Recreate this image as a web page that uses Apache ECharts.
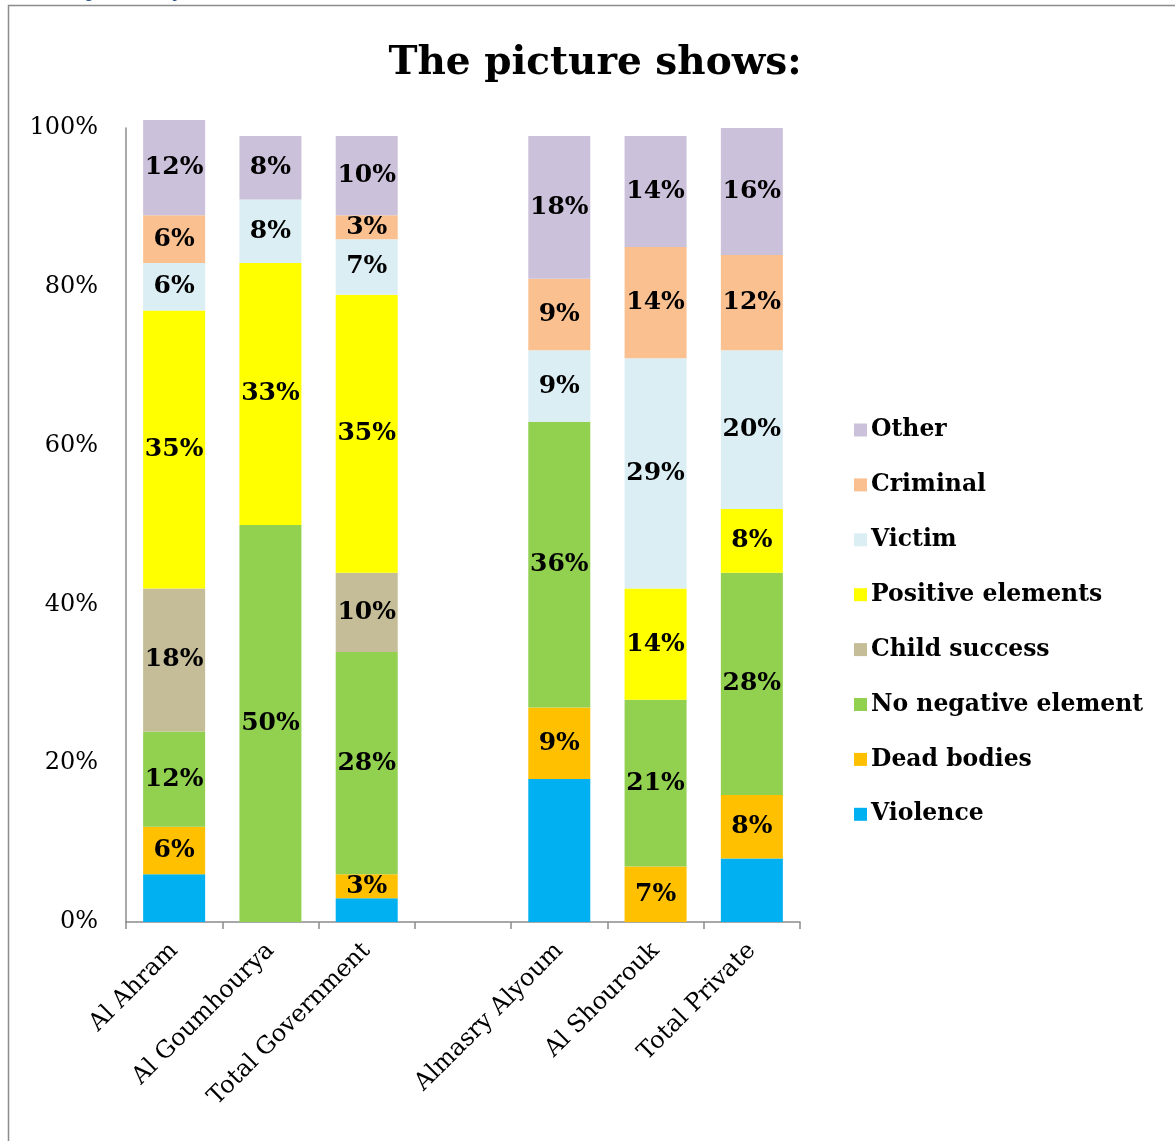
<!DOCTYPE html>
<html>
<head>
<meta charset="utf-8">
<script src="https://cdn.jsdelivr.net/npm/echarts@6/dist/echarts.min.js"></script>
<style>
html,body{margin:0;padding:0;background:#fff;}
#chart{width:1175px;height:1141px;}
</style>
</head>
<body>
<div id="chart"></div>
<script>
const categories = ['Al Ahram', 'Al Goumhourya', 'Total Government', '', 'Almasry Alyoum', 'Al Shourouk', 'Total Private'];
const violence      = [6, 0, 3, null, 18, 0, 8];
const deadBodies    = [6, 0, 3, null, 9, 7, 8];
const noNegative    = [12, 50, 28, null, 36, 21, 28];
const childSuccess  = [18, 0, 10, null, 0, 0, 0];
const positive      = [35, 33, 35, null, 0, 14, 8];
const victim        = [6, 8, 7, null, 9, 29, 20];
const criminal      = [6, 0, 3, null, 9, 14, 12];
const other         = [12, 8, 10, null, 18, 14, 16];
const yTicks = ['0%', '20%', '40%', '60%', '80%', '100%'];

const seriesDefs = [
  {name: 'Violence', data: violence, color: '#00B0F0', label: false},
  {name: 'Dead bodies', data: deadBodies, color: '#FFC000', label: true},
  {name: 'No negative element', data: noNegative, color: '#92D050', label: true},
  {name: 'Child success', data: childSuccess, color: '#C4BD97', label: true},
  {name: 'Positive elements', data: positive, color: '#FFFF00', label: true},
  {name: 'Victim', data: victim, color: '#DBEEF4', label: true},
  {name: 'Criminal', data: criminal, color: '#FAC090', label: true},
  {name: 'Other', data: other, color: '#CCC1DA', label: true}
];

const serif = 'DejaVu Serif';

const chart = echarts.init(document.getElementById('chart'));
chart.setOption({
  animation: false,
  backgroundColor: '#fff',
  title: {
    text: 'The picture shows:',
    left: 590, top: 39, textAlign: 'center',
    textStyle: {fontFamily: serif, fontWeight: 'bold', fontSize: 39, color: '#000'}
  },
  graphic: [
    {type: 'polyline', shape: {points: [[8.5, 1141], [8.5, 5.5], [1175, 5.5]]}, style: {stroke: '#8c8c8c', lineWidth: 1.5, fill: null}},
    {type: 'text', left: 70, top: -17, style: {text: 'Figure 7: The picture shows', font: 'italic 18px Liberation Serif', fill: '#1F497D'}}
  ],
  legend: {
    orient: 'vertical',
    left: 849, top: 413,
    itemWidth: 13, itemHeight: 13,
    itemGap: 30.9,
    icon: 'rect',
    data: seriesDefs.map(s => s.name).reverse(),
    textStyle: {fontFamily: serif, fontWeight: 'bold', fontSize: 23.5, color: '#000', lineHeight: 23.5, padding: [0, 0, 0, -1]}
  },
  grid: {left: 126, right: 375, top: 128, bottom: 219, containLabel: false},
  xAxis: {
    type: 'category',
    data: categories,
    axisLine: {lineStyle: {color: '#8c8c8c', width: 1.5}},
    axisTick: {show: true, length: 7, lineStyle: {color: '#8c8c8c', width: 1.5}},
    axisLabel: {rotate: 45, interval: 0, margin: 25, fontFamily: serif, fontSize: 24, color: '#000'}
  },
  yAxis: {
    type: 'value', min: 0, max: 100, interval: 20,
    axisLine: {show: true, lineStyle: {color: '#8c8c8c', width: 1.5}},
    axisTick: {show: false},
    splitLine: {show: false},
    axisLabel: {margin: 28, fontFamily: serif, fontSize: 24, color: '#000', padding: [7, 0, 0, 0],
      formatter: v => yTicks[v / 20]}
  },
  series: seriesDefs.map(s => ({
    name: s.name,
    type: 'bar',
    stack: 'total',
    barWidth: 62,
    clip: false,
    data: s.data.map(v => (v === 0 ? null : v)),
    itemStyle: {color: s.color},
    label: {
      show: s.label,
      position: 'inside',
      formatter: p => p.value + '%',
      fontFamily: serif, fontWeight: 'bold', fontSize: 25, color: '#000'
    }
  }))
});
</script>
</body>
</html>
